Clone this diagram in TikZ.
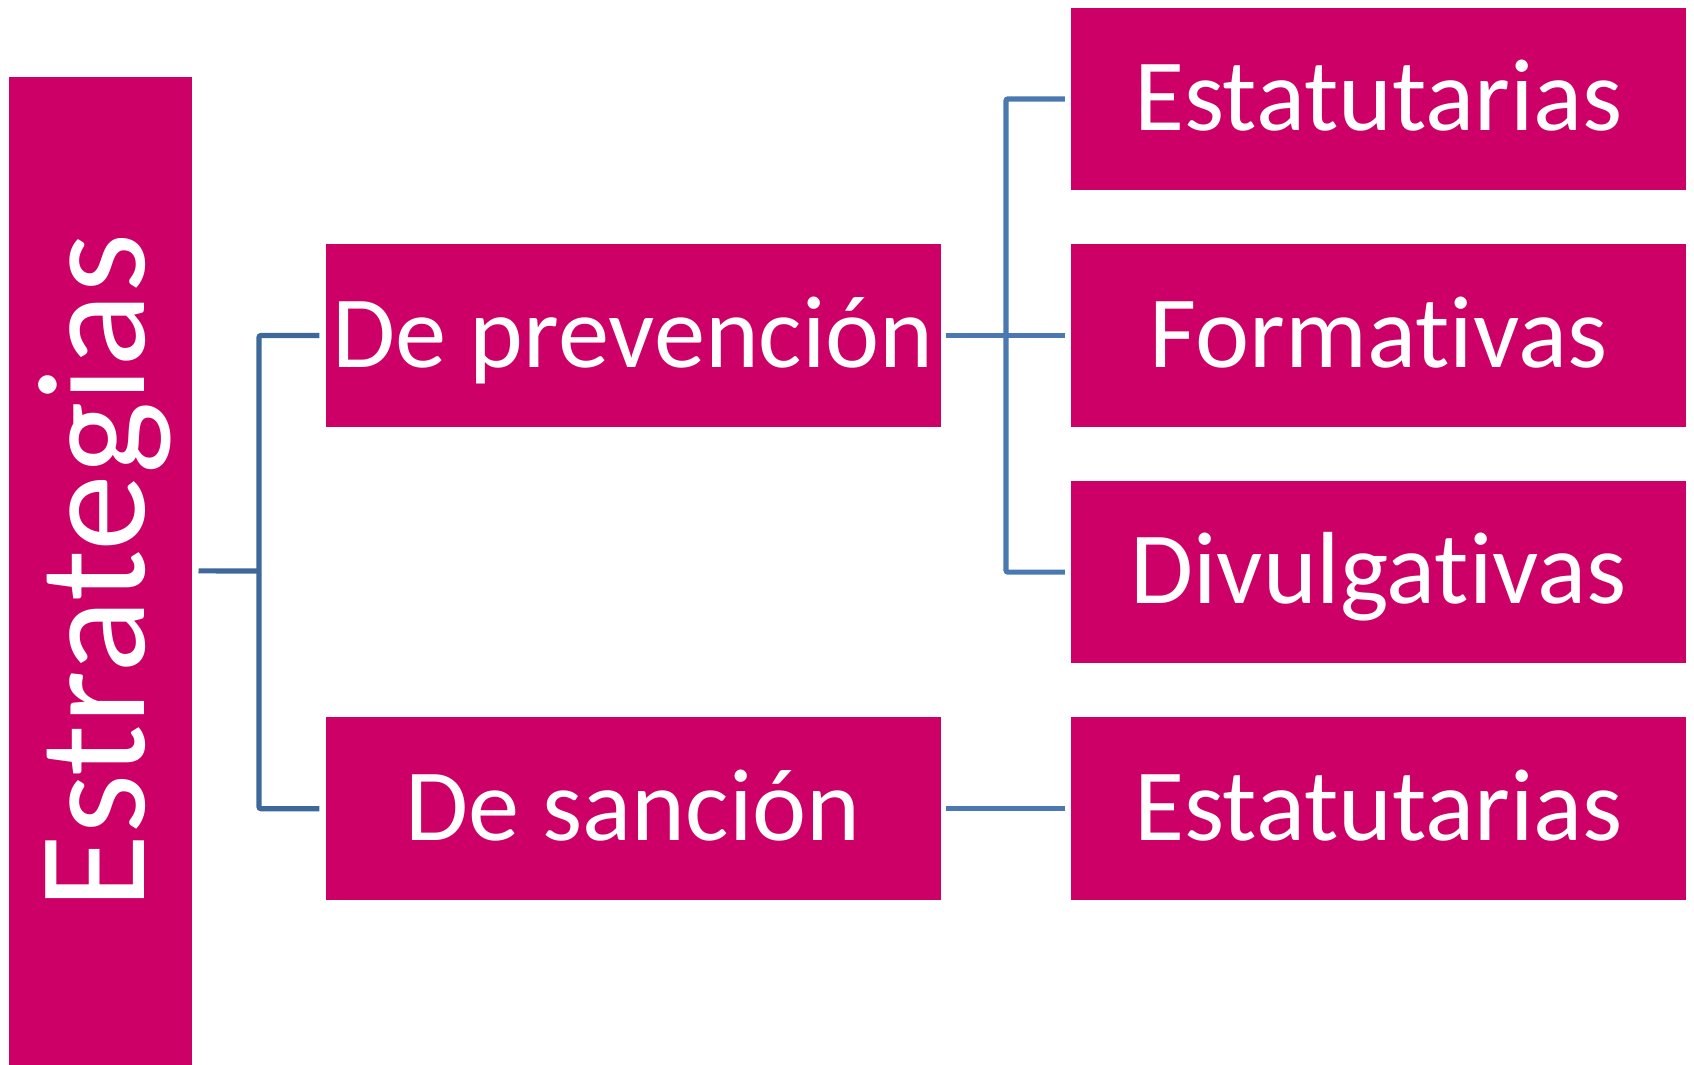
\documentclass[tikz,border=0pt]{standalone}
\usepackage{fontspec}
\setmainfont[Ligatures=NoCommon]{Carlito}
\definecolor{mag}{RGB}{204,0,102}
\definecolor{lineA}{RGB}{63,104,154}
\definecolor{lineB}{RGB}{74,120,176}
\begin{document}
\begin{tikzpicture}[x=1pt,y=-1pt,
  box/.style={fill=mag,draw=none,minimum width=615pt,minimum height=182.6pt,inner sep=0pt,
    text=white,font=\fontsize{102.5}{120}\selectfont,text height=63pt,text depth=0pt,anchor=center},
  conA/.style={draw=lineA,line width=5.2pt,rounded corners=2pt},
  conB/.style={draw=lineB,line width=5.2pt,rounded corners=2pt}]
\useasboundingbox (0,0) rectangle (1694,1065);
\fill[white] (0,0) rectangle (1694,1065);
% left box
\node[fill=mag,inner sep=0pt,minimum width=183.7pt,minimum height=988.3pt] (L) at (100.45,570.85) {};
\node[rotate=90,anchor=base west,inner sep=0pt,text=white,font=\fontsize{154}{180}\selectfont] (Lt) at (144,910) {Estrategias};
% middle
\node[box] (P) at (633,335.5) {De prevención};
\node[box] (S) at (633,808.7) {De sanción};
% right
\node[box] (R1) at (1378.5,98.9) {Estatutarias};
\node[box] (R2) at (1378.5,335.5) {Formativas};
\node[box] (R3) at (1378.5,572.1) {Divulgativas};
\node[box] (R4) at (1378.5,808.7) {Estatutarias};
% connectors
\coordinate (JL) at (259,571);
\draw[conA] ([xshift=6pt]L.east) -- (JL);
\draw[conA] ([xshift=-6pt]P.west) -| (JL) |- ([xshift=-6pt]S.west);
\coordinate (JR) at (1006,335.5);
\draw[conB] ([xshift=5pt]P.east) -- ([xshift=-6pt]R2.west);
\draw[conB] ([xshift=-6pt]R1.west) -| (JR) |- ([xshift=-6pt]R3.west);
\draw[conB] ([xshift=5pt]S.east) -- ([xshift=-6pt]R4.west);
\end{tikzpicture}
\end{document}
